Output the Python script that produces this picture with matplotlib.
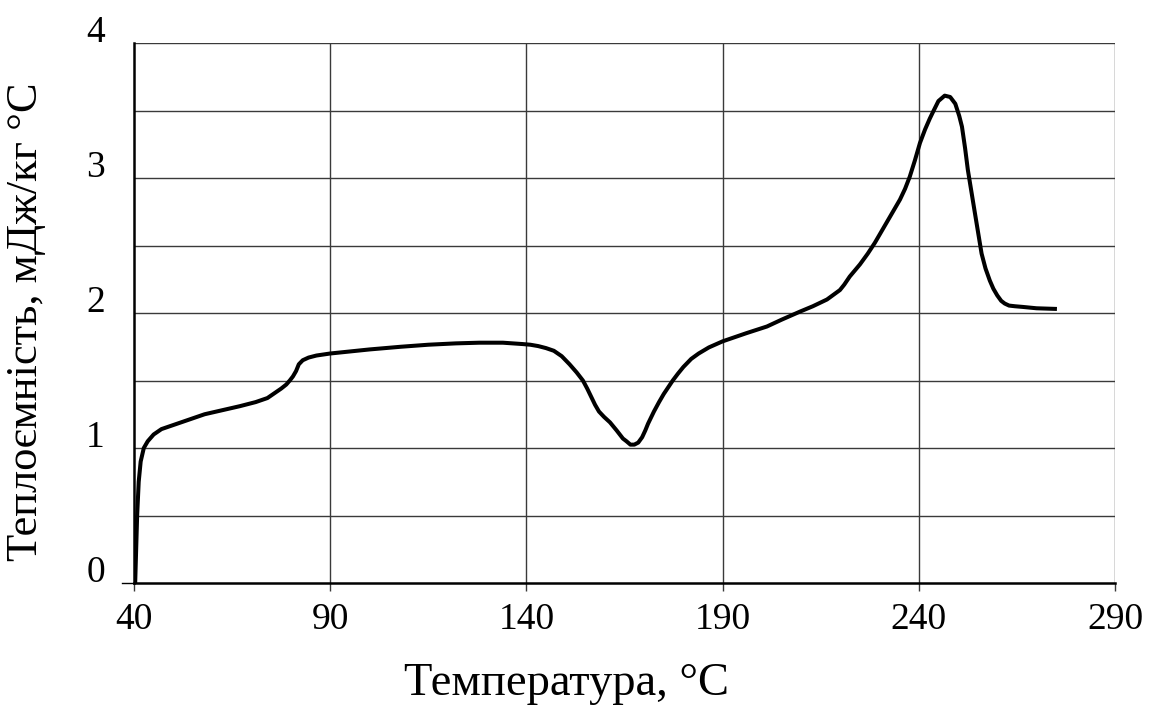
import matplotlib
matplotlib.use("Agg")
import matplotlib.pyplot as plt
import matplotlib.transforms as mtransforms

# Heat capacity curve: temperature (°C) vs heat capacity (mJ/kg °C)
temperature = [40.3, 40.5, 40.8, 41.2, 41.7, 42.5, 43.5, 45, 47, 49, 52, 55, 58,
               61, 64, 67, 71, 74, 76, 77.5, 78.8, 79.7, 80.5, 81.3, 82.0, 83,
               84.5, 86.5, 90, 95, 100, 108, 115, 122, 128, 134, 139, 141, 143,
               145, 147, 149, 151, 152.8, 154.4, 155.5, 156.5, 157.5, 158.5,
               159.8, 161.3, 163, 164.6, 165.5, 166.5, 167.5, 168.5, 169.5,
               170.3, 171, 172.5, 173.8, 175, 177.3, 178.6, 180, 182, 183.9,
               186.5, 190, 196, 201.3, 205, 209.7, 213, 216.6, 219.9, 221,
               222.4, 225, 227, 228.8, 232, 235.2, 236.5, 237.7, 239, 240.3,
               241.6, 242.8, 243.8, 245, 246.6, 248, 249.3, 250.3, 251, 251.8,
               252.5, 254.3, 256, 257, 258.1, 259, 260, 261, 261.9, 263, 264.5,
               266.5, 270, 275.2]
heat_capacity = [0.0, 0.2, 0.5, 0.75, 0.9, 1.0, 1.05, 1.1, 1.14, 1.16, 1.19, 1.22, 1.25,
                 1.27, 1.29, 1.31, 1.34, 1.37, 1.41, 1.44, 1.47, 1.50, 1.53, 1.57, 1.62, 1.65,
                 1.67, 1.685, 1.70, 1.715, 1.73, 1.75, 1.765, 1.775, 1.78, 1.78, 1.77, 1.765, 1.755,
                 1.74, 1.72, 1.68, 1.62, 1.56, 1.50, 1.44, 1.38, 1.32, 1.27,
                 1.23, 1.19, 1.13, 1.07, 1.05, 1.025, 1.025, 1.04, 1.08,
                 1.13, 1.18, 1.27, 1.34, 1.40, 1.50, 1.55, 1.60, 1.66, 1.70,
                 1.745, 1.79, 1.85, 1.90, 1.95, 2.01, 2.05, 2.10, 2.17, 2.21,
                 2.27, 2.36, 2.44, 2.52, 2.68, 2.84, 2.92, 3.01, 3.13, 3.26,
                 3.36, 3.44, 3.50, 3.57, 3.61, 3.60, 3.55, 3.46, 3.38, 3.22,
                 3.06, 2.74, 2.44, 2.33, 2.24, 2.18, 2.13, 2.09, 2.07, 2.055, 2.05,
                 2.045, 2.035, 2.03]

x_ticks = [40, 90, 140, 190, 240, 290]
y_ticks = [0, 1, 2, 3, 4]
y_minor = [0.5, 1.5, 2.5, 3.5]

x_label = "Температура, °C"
y_label = "Теплоємність, мДж/кг °С"

plt.rcParams["font.family"] = ["Liberation Serif", "DejaVu Serif"]

W, H = 1153, 705
fig = plt.figure(figsize=(W / 100, H / 100), dpi=100)
ax = fig.add_axes([134 / W, 1 - 583 / H, (1115 - 134) / W, (583 - 43) / H])

ax.plot(temperature, heat_capacity, color="black", lw=2.9,
        solid_joinstyle="round", solid_capstyle="butt", zorder=3)

ax.set_xlim(40, 290)
ax.set_ylim(0, 4)
ax.set_xticks(x_ticks)
ax.set_yticks(y_ticks)
ax.set_yticks(y_minor, minor=True)

grid_kw = dict(color="#3a3a3a", lw=1.0, zorder=1)
for xv in x_ticks[1:]:
    ax.axvline(xv, **grid_kw)
for yv in y_ticks[1:] + y_minor:
    ax.axhline(yv, **grid_kw)

for side in ("top", "right"):
    ax.spines[side].set_visible(False)
for side in ("left", "bottom"):
    ax.spines[side].set_linewidth(1.8)
    ax.spines[side].set_color("black")

ax.tick_params(axis="x", which="major", direction="out", length=6, width=1.0,
               pad=8, labelsize=27, color="#3a3a3a")
ax.tick_params(axis="y", which="both", direction="out", length=0, width=1.0,
               pad=21, labelsize=27)

# raise the y tick labels slightly above their gridlines
offset = mtransforms.ScaledTranslation(0, 14 / 100, fig.dpi_scale_trans)
for lbl in ax.get_yticklabels():
    lbl.set_transform(lbl.get_transform() + offset)

# short outward tick at the origin on the y side
ax.plot([-0.012, 0], [0, 0], transform=ax.get_yaxis_transform(),
        color="black", lw=1.0, clip_on=False)

fig.text(567 / W, 1 - 684 / H, x_label, ha="center", va="center", fontsize=33.5)
fig.text(26 / W, 1 - 322 / H, y_label, ha="center", va="center",
         rotation=90, fontsize=32)

fig.savefig("out.png", dpi=100, facecolor="white")
